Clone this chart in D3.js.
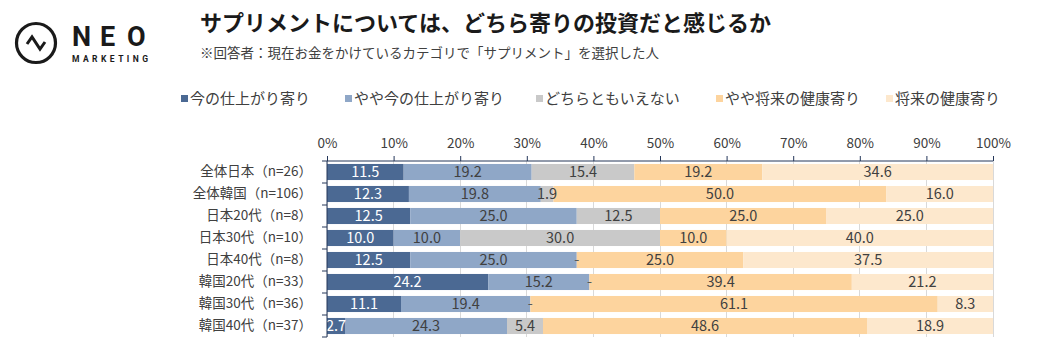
<!DOCTYPE html>
<html><head><meta charset="utf-8">
<script src="https://cdn.jsdelivr.net/npm/d3@7"></script>
<style>
html,body{margin:0;padding:0;background:#fff;}
svg{display:block;font-family:"Noto Sans CJK JP","Noto Sans",sans-serif;}
</style></head>
<body><svg id="c" width="1037" height="350"></svg>
<script>
const categories = ["全体日本（n=26）","全体韓国（n=106）","日本20代（n=8）","日本30代（n=10）","日本40代（n=8）","韓国20代（n=33）","韓国30代（n=36）","韓国40代（n=37）"];
const seriesNames = ["今の仕上がり寄り","やや今の仕上がり寄り","どちらともいえない","やや将来の健康寄り","将来の健康寄り"];
const vNow = [11.5,12.3,12.5,10.0,12.5,24.2,11.1,2.7];
const vSomewhatNow = [19.2,19.8,25.0,10.0,25.0,15.2,19.4,24.3];
const vNeither = [15.4,1.9,12.5,30.0,0,0,0,5.4];
const vSomewhatFuture = [19.2,50.0,25.0,10.0,25.0,39.4,61.1,48.6];
const vFuture = [34.6,16.0,25.0,40.0,37.5,21.2,8.3,18.9];
const tickValues = [0,0.1,0.2,0.3,0.4,0.5,0.6,0.7,0.8,0.9,1.0];
const colors = ["#4b6993","#8fa7c7","#c9c9c9","#fdd49e","#fde8cd"];
const labelColors = ["#ffffff","#404040","#404040","#404040","#404040"];

const seriesValues = [vNow,vSomewhatNow,vNeither,vSomewhatFuture,vFuture];
const rows = categories.map((c,i)=>{const o={cat:c}; seriesNames.forEach((s,j)=>o[s]=seriesValues[j][i]); return o;});

const svg = d3.select("#c");

// Logo
const logo = svg.append("g");
logo.append("circle").attr("cx",36).attr("cy",43).attr("r",19.5).attr("fill","none").attr("stroke","#1a1a1a").attr("stroke-width",3.2);
logo.append("path").attr("d","M27,44 L32,37 L40,49 L45,42").attr("fill","none").attr("stroke","#1a1a1a").attr("stroke-width",3).attr("stroke-linejoin","miter");
[["N",72],["E",100],["O",127]].forEach(([t,x])=>{
  logo.append("text").attr("x",x).attr("y",46).text(t).attr("font-family","Roboto, 'DejaVu Sans', sans-serif").attr("font-weight",700).attr("font-size",27).attr("fill","#1a1a1a");
});
logo.append("text").attr("x",72).attr("y",62).text("MARKETING").attr("font-family","Roboto, 'DejaVu Sans', sans-serif").attr("font-weight",700).attr("font-size",8.5).attr("fill","#1a1a1a").attr("textLength",76).attr("lengthAdjust","spacing");

// Title
svg.append("text").attr("x",200).attr("y",31).text("サプリメントについては、どちら寄りの投資だと感じるか").attr("font-size",22).attr("font-weight",700).attr("fill","#1a1a1a");
svg.append("text").attr("x",200).attr("y",58).text("※回答者：現在お金をかけているカテゴリで「サプリメント」を選択した人").attr("font-size",13.5).attr("fill","#404040");

// Legend
const legendX = [181,345,536,716,886];
const lg = svg.append("g");
seriesNames.forEach((s,i)=>{
  lg.append("rect").attr("x",legendX[i]).attr("y",95).attr("width",7).attr("height",7).attr("fill",colors[i]);
  lg.append("text").attr("x",legendX[i]+9).attr("y",104).text(s).attr("font-size",15).attr("fill","#404040");
});

// Chart
const x = d3.scaleLinear().domain([0,1]).range([327,993]);
const y = d3.scaleBand().domain(categories).range([161,337]).paddingInner(0.27).paddingOuter(0.135);

const stack = d3.stack().keys(seriesNames).offset(d3.stackOffsetExpand);
const stacked = stack(rows);

// grid
svg.append("g").selectAll("line").data(tickValues).join("line")
  .attr("x1",d=>x(d)).attr("x2",d=>x(d)).attr("y1",161).attr("y2",337)
  .attr("stroke","#d9d9d9").attr("stroke-width",1).attr("shape-rendering","crispEdges");

const layers = svg.append("g").selectAll("g").data(stacked).join("g").attr("fill",(d,i)=>colors[i]);
layers.selectAll("rect").data(d=>d).join("rect")
  .attr("x",d=>x(d[0])).attr("width",d=>Math.max(0,x(d[1])-x(d[0])))
  .attr("y",d=>y(d.data.cat)).attr("height",y.bandwidth());

// labels
stacked.forEach((layer,i)=>{
  svg.append("g").selectAll("text").data(layer).join("text")
    .attr("x",d=>(x(d[0])+x(d[1]))/2)
    .attr("y",d=>y(d.data.cat)+y.bandwidth()/2)
    .attr("dy","0.36em")
    .attr("text-anchor","middle")
    .attr("font-size",14.5)
    .attr("fill",d=>{const v=d.data[seriesNames[i]]; return v===0?"#595959":labelColors[i];})
    .text(d=>{const v=d.data[seriesNames[i]]; return v===0?"-":v.toFixed(1);});
});

// top axis
const xAxis = d3.axisTop(x).tickValues(tickValues).tickFormat(d3.format(".0%")).tickSize(5).tickPadding(8);
const gx = svg.append("g").attr("transform","translate(0,161)").call(xAxis);
gx.select(".domain").attr("stroke","#243659").attr("d","M327,0H993");
gx.selectAll(".tick line").attr("stroke","#243659");
gx.selectAll(".tick text").attr("font-size",13.5).attr("fill","#404040").attr("font-family","'Noto Sans CJK JP','Noto Sans',sans-serif");

// left axis
const yAxis = d3.axisLeft(y).tickSize(0).tickPadding(15);
const gy = svg.append("g").attr("transform","translate(327,0)").call(yAxis);
gy.select(".domain").attr("stroke","#243659").attr("d","M0,161V337");
gy.selectAll(".tick text").attr("font-size",13.5).attr("fill","#404040").attr("font-family","'Noto Sans CJK JP','Noto Sans',sans-serif");
// category boundary ticks
const bounds = d3.range(categories.length+1).map(i=>161+i*(176/categories.length));
svg.append("g").selectAll("line").data(bounds).join("line")
  .attr("x1",322).attr("x2",327).attr("y1",d=>d).attr("y2",d=>d)
  .attr("stroke","#243659").attr("stroke-width",1);
</script></body></html>
